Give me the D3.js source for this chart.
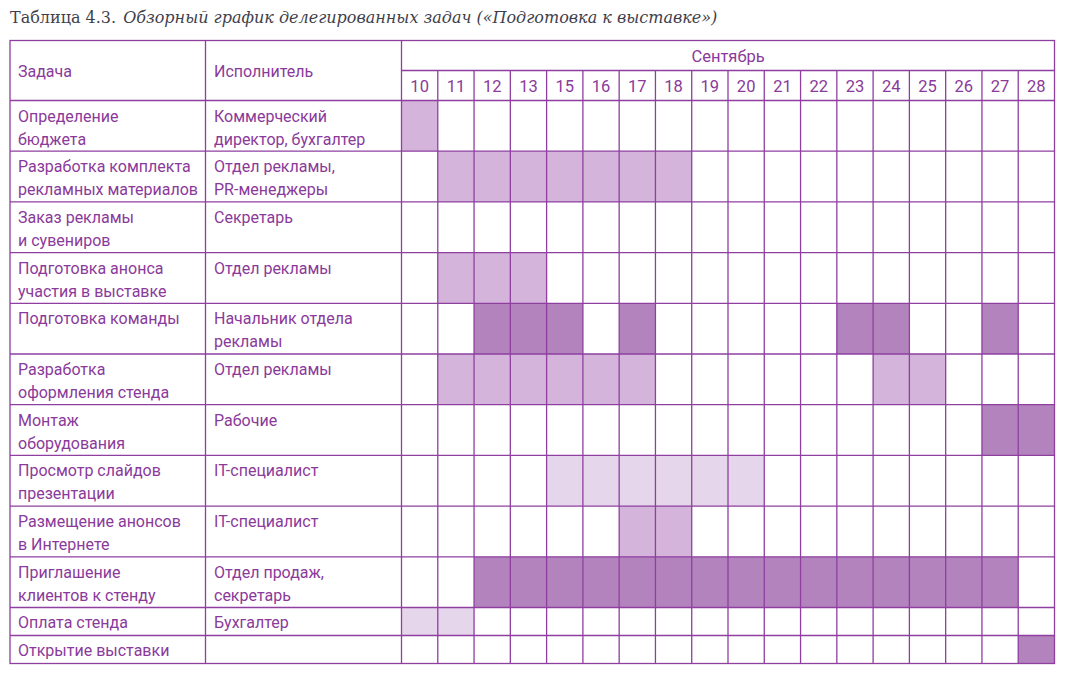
<!DOCTYPE html>
<html><head><meta charset="utf-8">
<script src="https://cdn.jsdelivr.net/npm/d3@7"></script>
<style>
html,body{margin:0;padding:0;background:#fff;}
svg{display:block;}
</style></head>
<body>
<svg id="chart" width="1068" height="673"></svg>
<script>
const titleLabel = "Таблица 4.3.";
const titleText = "Обзорный график делегированных задач («Подготовка к выставке»)";
const headerTask = "Задача";
const headerExec = "Исполнитель";
const monthLabel = "Сентябрь";
const days = [10,11,12,13,15,16,17,18,19,20,21,22,23,24,25,26,27,28];
const tasks = [
  ["Определение","бюджета"],
  ["Разработка комплекта","рекламных материалов"],
  ["Заказ рекламы","и сувениров"],
  ["Подготовка анонса","участия в выставке"],
  ["Подготовка команды"],
  ["Разработка","оформления стенда"],
  ["Монтаж","оборудования"],
  ["Просмотр слайдов","презентации"],
  ["Размещение анонсов","в Интернете"],
  ["Приглашение","клиентов к стенду"],
  ["Оплата стенда"],
  ["Открытие выставки"]
];
const executors = [
  ["Коммерческий","директор, бухгалтер"],
  ["Отдел рекламы,","PR-менеджеры"],
  ["Секретарь"],
  ["Отдел рекламы"],
  ["Начальник отдела","рекламы"],
  ["Отдел рекламы"],
  ["Рабочие"],
  ["IT-специалист"],
  ["IT-специалист"],
  ["Отдел продаж,","секретарь"],
  ["Бухгалтер"],
  []
];
const rowLines = [2,2,2,2,2,2,2,2,2,2,1,1];
// intensity per day: 0 none, 1 pale, 2 light, 3 dark
const intensity = [
  [2,0,0,0,0,0,0,0,0,0,0,0,0,0,0,0,0,0],
  [0,2,2,2,2,2,2,2,0,0,0,0,0,0,0,0,0,0],
  [0,0,0,0,0,0,0,0,0,0,0,0,0,0,0,0,0,0],
  [0,2,2,2,0,0,0,0,0,0,0,0,0,0,0,0,0,0],
  [0,0,3,3,3,0,3,0,0,0,0,0,3,3,0,0,3,0],
  [0,2,2,2,2,2,2,0,0,0,0,0,0,2,2,0,0,0],
  [0,0,0,0,0,0,0,0,0,0,0,0,0,0,0,0,3,3],
  [0,0,0,0,1,1,1,1,1,1,0,0,0,0,0,0,0,0],
  [0,0,0,0,0,0,2,2,0,0,0,0,0,0,0,0,0,0],
  [0,0,3,3,3,3,3,3,3,3,3,3,3,3,3,3,3,0],
  [1,1,0,0,0,0,0,0,0,0,0,0,0,0,0,0,0,0],
  [0,0,0,0,0,0,0,0,0,0,0,0,0,0,0,0,0,3]
];

const fillColors = ["#ffffff","#e6d6eb","#d4b4da","#b383bd"];
const lineColor = "#8e3fa0";
const textColor = "#8a3a9a";
const font = "Roboto, 'Noto Sans', sans-serif";

const svg = d3.select("#chart");
const L = 10, R = 1054.5, T = 40.5, H1 = 70.5, H2 = 100.5;
const colTask = L, colExec = 205.5, colDays = 401.5;

const x = d3.scaleBand().domain(days).range([colDays, R]).paddingInner(0).paddingOuter(0);

const unitH2 = 50.7, unitH1 = 28;
const rowH = rowLines.map(n => n === 2 ? unitH2 : unitH1);
const cum = [0]; rowH.forEach((h,i)=>cum.push(cum[i]+h));
const y = d3.scaleLinear().domain([0, cum[cum.length-1]]).range([H2, H2 + cum[cum.length-1]]);
const rows = tasks.map((t,i)=>({i, task:t, exec:executors[i], y0:y(cum[i]), y1:y(cum[i+1]), lines:rowLines[i]}));
const B = y(cum[cum.length-1]);

// title
const title = svg.append("text").attr("x", 10).attr("y", 23)
  .attr("font-family", "'DejaVu Serif', 'Liberation Serif', serif").attr("font-size", 16).attr("fill", "#3f3f4c");
title.append("tspan").text(titleLabel);
title.append("tspan").attr("font-style","italic").attr("dx", 7).text(titleText);

// cells fill
const g = svg.append("g");
rows.forEach(r => {
  g.selectAll(null).data(intensity[r.i].map((v,j)=>({v, d:days[j]})).filter(c=>c.v>0))
    .enter().append("rect")
    .attr("x", c => x(c.d)).attr("y", r.y0).attr("width", x.bandwidth()).attr("height", r.y1 - r.y0)
    .attr("fill", c => fillColors[c.v]);
});

// grid lines
const lines = svg.append("g").attr("stroke", lineColor).attr("stroke-width", 1.3).attr("fill","none");
lines.append("rect").attr("x", L).attr("y", T).attr("width", R-L).attr("height", B-T);
lines.append("line").attr("x1", colDays).attr("x2", R).attr("y1", H1).attr("y2", H1);
[colExec, colDays].forEach(xx => lines.append("line").attr("x1", xx).attr("x2", xx).attr("y1", T).attr("y2", B));
days.slice(1).forEach(d => lines.append("line").attr("x1", x(d)).attr("x2", x(d)).attr("y1", H1).attr("y2", B));
rows.forEach(r => lines.append("line").attr("x1", L).attr("x2", R).attr("y1", r.y0).attr("y2", r.y0));

// header text
const tx = svg.append("g").attr("font-family", font).attr("font-size", 16).attr("fill", textColor);
tx.append("text").attr("x", colTask + 8).attr("y", 77).text(headerTask);
tx.append("text").attr("x", colExec + 8.5).attr("y", 77).text(headerExec);
tx.append("text").attr("x", (colDays + R)/2).attr("y", 62).attr("font-size", 16.5).attr("text-anchor","middle").text(monthLabel);
tx.selectAll(".day").data(days).enter().append("text").attr("font-size", 16.5)
  .attr("x", d => x(d) + x.bandwidth()/2).attr("y", 92).attr("text-anchor","middle").text(d => d);

// row text
rows.forEach(r => {
  const base = r.lines === 2 ? r.y0 + 21 : r.y0 + 20;
  r.task.forEach((s,k) => tx.append("text").attr("x", colTask + 8).attr("y", base + k*23).text(s));
  r.exec.forEach((s,k) => tx.append("text").attr("x", colExec + 8.5).attr("y", base + k*23).text(s));
});
</script>
</body></html>
